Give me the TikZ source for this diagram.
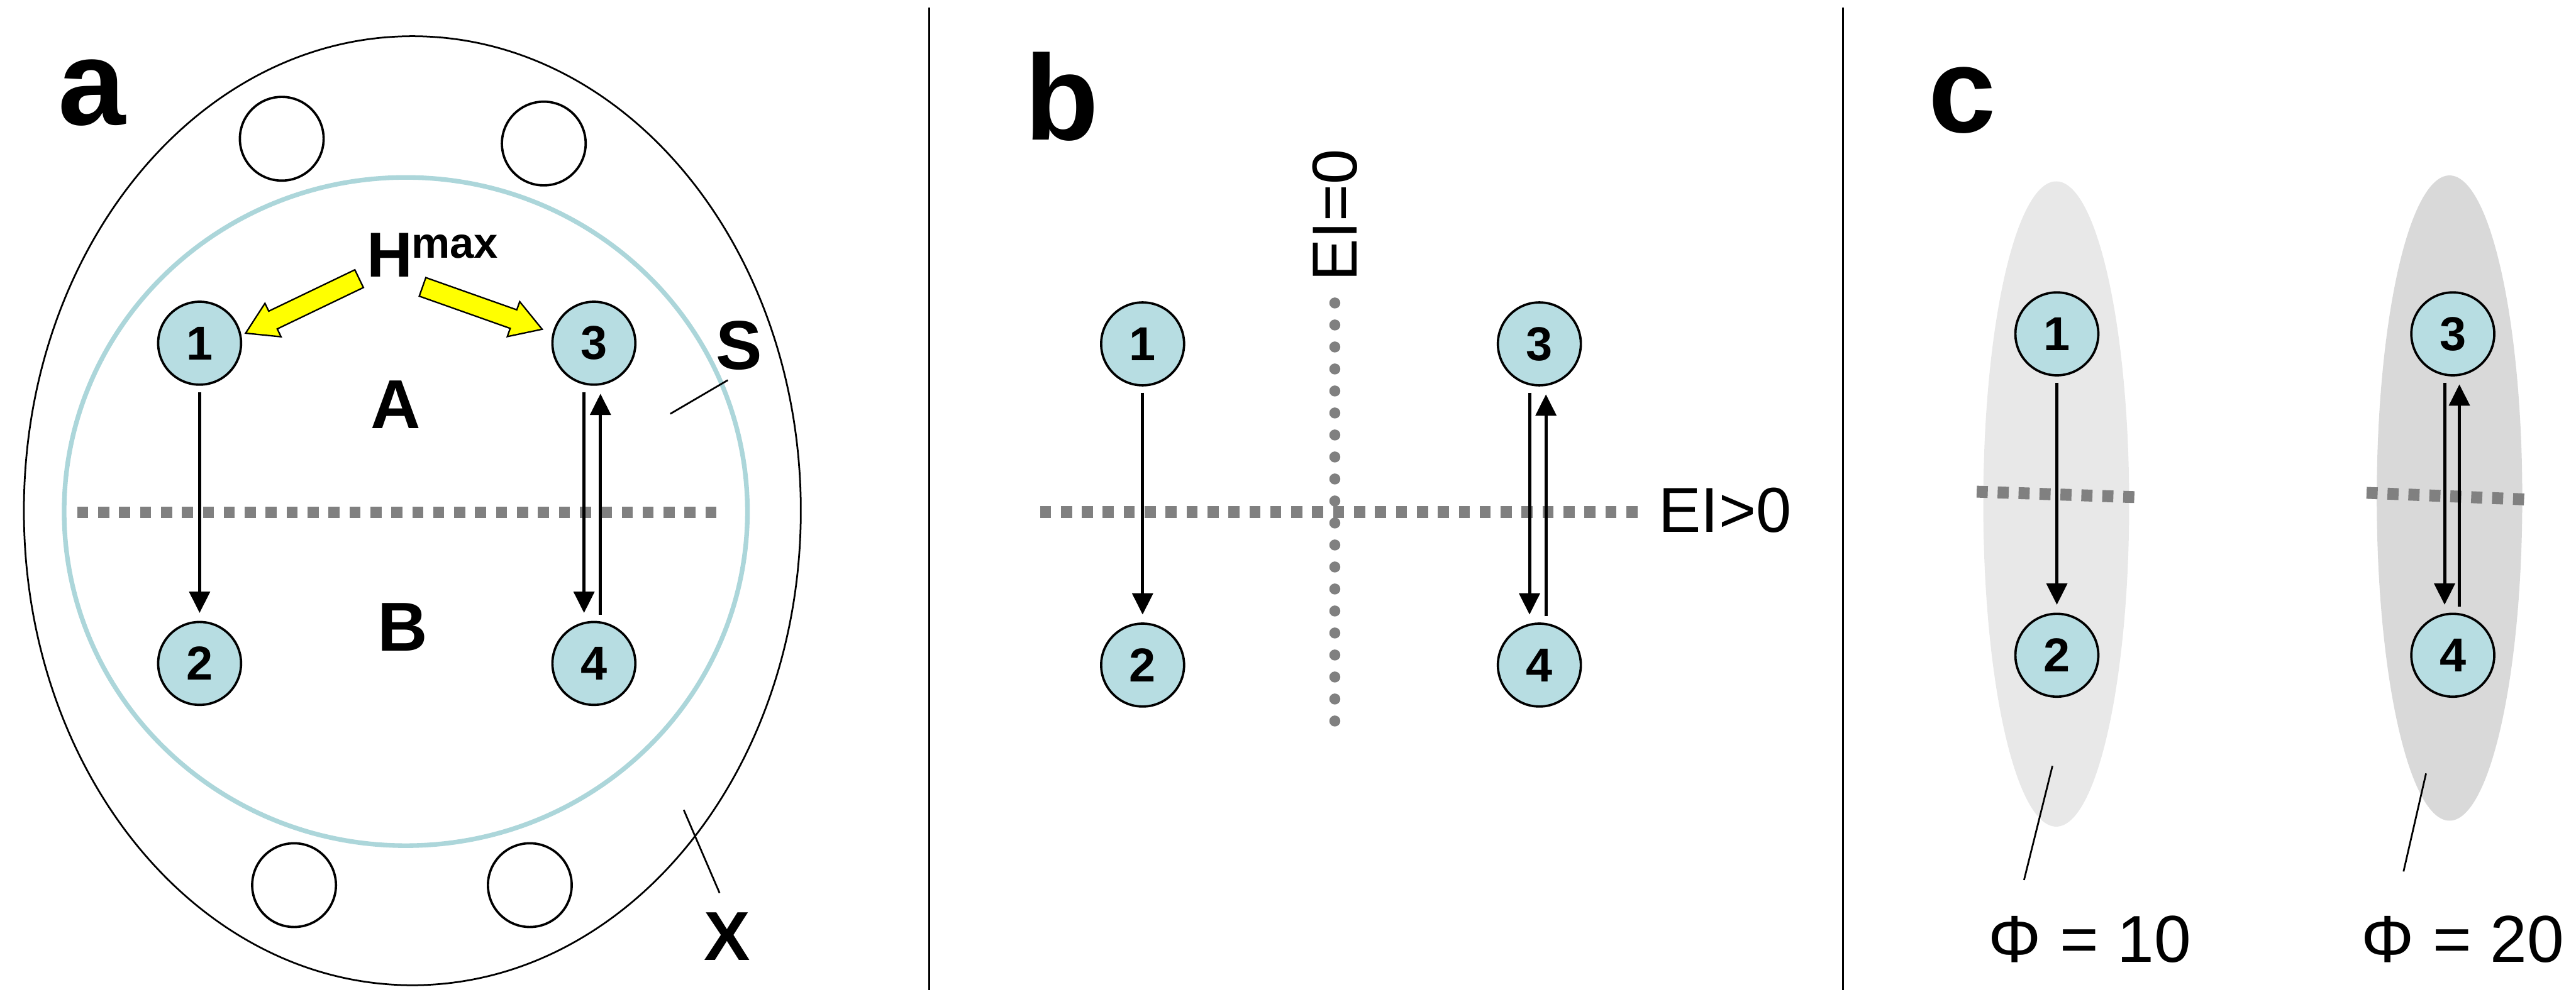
\documentclass[tikz,border=0pt]{standalone}
\usepackage{fontspec}
\setmainfont{Liberation Sans}
\usetikzlibrary{arrows.meta,calc}

\definecolor{nodefill}{RGB}{183,221,226}
\definecolor{ringteal}{RGB}{172,214,218}
\definecolor{dotgray}{RGB}{128,128,128}
\definecolor{hlyellow}{RGB}{255,255,0}
\definecolor{shadelight}{RGB}{232,232,232}
\definecolor{shadedark}{RGB}{217,217,217}

\tikzset{
  well/.style={circle, draw=black, line width=0.8pt, fill=nodefill,
    minimum size=1.01cm, inner sep=0pt, outer sep=0pt,
    font=\fontsize{16.5}{16.5}\selectfont\bfseries},
  flow/.style={line width=1.1pt, -{Triangle[length=0.26cm,width=0.25cm]},
    shorten <=0.09cm, shorten >=0.11cm},
  squaredots/.style={dotgray, line width=0.145cm, dash pattern=on 0.135cm off 0.12cm},
  rounddots/.style={dotgray, line width=0.134cm, line cap=round,
    dash pattern=on 0pt off 0.268cm},
  leader/.style={line width=0.6pt},
  divider/.style={line width=0.7pt},
  hole/.style={line width=0.8pt, fill=white},
  panellabel/.style={font=\fontsize{42}{42}\selectfont\bfseries, inner sep=0pt, anchor=base},
  regionlabel/.style={font=\fontsize{24}{24}\selectfont\bfseries, inner sep=0pt, anchor=base},
  eilabel/.style={font=\fontsize{22}{22}\selectfont, inner sep=0pt, anchor=base},
  philabel/.style={font=\fontsize{23}{23}\selectfont, inner sep=0pt, anchor=base},
}

% yellow block arrow from #1 (tail centre) to #2 (tip)
\newcommand\yellowarrow[2]{%
  \path (#1) coordinate (ya-t) (#2) coordinate (ya-p);
  \path ($(ya-p)!0.37cm!(ya-t)$) coordinate (ya-h);
  \filldraw[fill=hlyellow, draw=black, line width=0.5pt, line join=miter]
    ($(ya-t)!0.12cm!90:(ya-p)$) -- ($(ya-h)!0.12cm!90:(ya-p)$)
    -- ($(ya-h)!0.226cm!90:(ya-p)$) -- (ya-p)
    -- ($(ya-h)!0.226cm!-90:(ya-p)$) -- ($(ya-h)!0.12cm!-90:(ya-p)$)
    -- ($(ya-t)!0.12cm!-90:(ya-p)$) -- cycle;
}

\begin{document}
\begin{tikzpicture}[x=0.02cm, y=-0.02cm]
\useasboundingbox (0,0) rectangle (1568,604);

% panel dividers
\draw[divider] (565.5,4.5) -- (565.5,603);
\draw[divider] (1121.7,4.5) -- (1121.7,603);

% ---------------- panel a ----------------
\node[panellabel] (la) at (56,76) {a};
\draw[line width=0.6pt] (251,311) ellipse [x radius=4.73cm, y radius=5.78cm];
\foreach \p in {(171.5,84.5),(331,87.4),(179,539),(322.5,539)}
  \draw[hole] \p circle [radius=0.51cm];
\draw[ringteal, line width=1.6pt] (247,311.5) ellipse [x radius=4.16cm, y radius=4.07cm];
\draw[squaredots] (47,312) -- (441,312);

\node[well] (a1) at (121.5,209) {1};
\node[well] (a2) at (121.5,404) {2};
\node[well] (a3) at (361.5,209) {3};
\node[well] (a4) at (361.5,404) {4};

\draw[flow] (a1) -- (a2);
\draw[flow] ([xshift=-0.12cm]a3.south) -- ([xshift=-0.12cm]a4.north);
\draw[flow] ([xshift=0.08cm]a4.north) -- ([xshift=0.08cm]a3.south);

\node[anchor=base west, inner sep=0pt, font=\fontsize{22}{22}\selectfont\bfseries]
  (hmax) at (223,168.6) {H\kern-0.5pt\raisebox{6.5pt}{\fontsize{15}{15}\selectfont max}};
\coordinate (hmL) at (218.6,169.7);
\coordinate (tip1) at (149.5,202.9);
\coordinate (hmR) at (257.2,174.7);
\coordinate (tip3) at (330,200.5);
\yellowarrow{hmL}{tip1}
\yellowarrow{hmR}{tip3}

\node[regionlabel] (rA) at (241,261) {A};
\node[regionlabel] (rB) at (245,396.5) {B};
\node[regionlabel] (rS) at (450,225) {S};
\node[regionlabel] (rX) at (442.5,584.6) {X};
\coordinate (sIn) at (408,252);
\coordinate (sOut) at (443,231.5);
\draw[leader] (sIn) -- (sOut);
\coordinate (xIn) at (416.2,493.2);
\coordinate (xOut) at (438,543.8);
\draw[leader] (xIn) -- (xOut);

% ---------------- panel b ----------------
\node[panellabel] (lb) at (646.5,85) {b};
\draw[rounddots] (812.5,184.5) -- (812.5,445);
\draw[squaredots] (633,311.7) -- (997,311.7);
\node[eilabel, rotate=90] (ei0) at (826,131) {EI=0};
\node[eilabel] (eip) at (1050,324) {EI>0};

\node[well] (b1) at (695.5,209.4) {1};
\node[well] (b2) at (695.5,405) {2};
\node[well] (b3) at (937,209.4) {3};
\node[well] (b4) at (937,405) {4};

\draw[flow] (b1) -- (b2);
\draw[flow] ([xshift=-0.12cm]b3.south) -- ([xshift=-0.12cm]b4.north);
\draw[flow] ([xshift=0.08cm]b4.north) -- ([xshift=0.08cm]b3.south);

% ---------------- panel c ----------------
\node[panellabel] (lc) at (1194.5,80.5) {c};
\fill[shadelight] (1251.6,306.9) ellipse [x radius=0.888cm, y radius=3.93cm];
\fill[shadedark] (1491,303.3) ellipse [x radius=0.886cm, y radius=3.93cm];
\draw[squaredots] (1203.2,299.4) -- (1301.4,302.8);
\draw[squaredots] (1440.5,300.1) -- (1538.7,304.2);

\node[well] (c1) at (1252,203.3) {1};
\node[well] (c2) at (1252,399) {2};
\node[well] (c3) at (1493,203.3) {3};
\node[well] (c4) at (1493,399) {4};

\draw[flow] (c1) -- (c2);
\draw[flow] ([xshift=-0.1cm]c3.south) -- ([xshift=-0.1cm]c4.north);
\draw[flow] ([xshift=0.08cm]c4.north) -- ([xshift=0.08cm]c3.south);

\coordinate (p1In) at (1249.3,466.4);
\coordinate (p1Out) at (1232,535.9);
\coordinate (p2In) at (1476.7,471);
\coordinate (p2Out) at (1463,530.7);
\draw[leader] (p1In) -- (p1Out);
\draw[leader] (p2In) -- (p2Out);
\node[philabel] (phi1) at (1272,585.8) {Φ = 10};
\node[philabel] (phi2) at (1499,585.8) {Φ = 20};
\end{tikzpicture}
\end{document}
